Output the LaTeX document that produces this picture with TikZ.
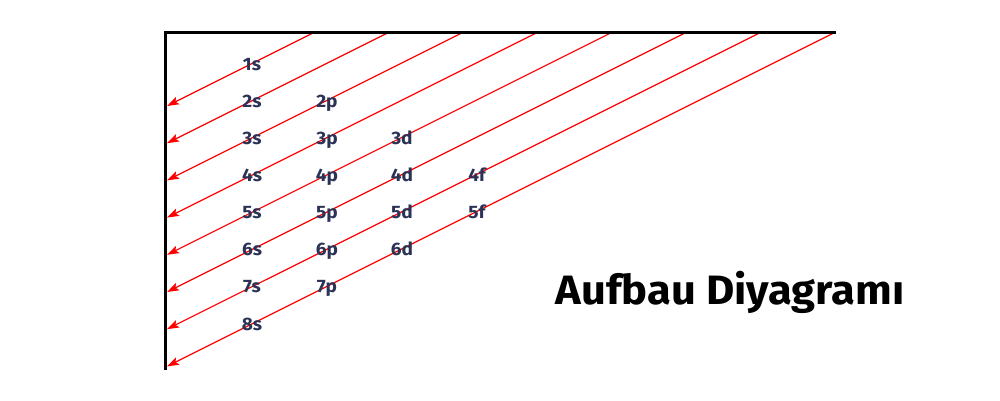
\documentclass[tikz,border=0pt]{standalone}
\usepackage{fontspec}
\setmainfont{Fira Sans}
\newfontfamily\widefont[FakeStretch=1.06]{Fira Sans}
\usetikzlibrary{arrows.meta, positioning}
\tikzset{>/.tip={Stealth[length=12pt,width=8pt,inset=2.5pt]}}
\definecolor{orbnavy}{RGB}{42,51,86}
\definecolor{fillred}{RGB}{255,0,0}

\begin{document}
\begin{tikzpicture}[x=1pt, y=-1pt,
  orb/.style={text=orbnavy, font=\widefont\bfseries\fontsize{18}{18}\selectfont, inner sep=0pt, anchor=base},
  fill line/.style={->, fillred, line width=1.2pt}]
\useasboundingbox (0,0) rectangle (1000,400);
% filling order lines
\foreach \k in {0,...,7} {
  \coordinate (t\k) at (315+74.4*\k, 32);
  \coordinate (l\k) at (167, 106+37.2*\k);
  \draw[fill line] (t\k) -- (l\k);
}
% frame
\coordinate (corner) at (165,32);
\coordinate (top end) at (836,32);
\coordinate (bottom end) at (165,370);
\draw[line width=3pt] (top end) -- (corner) -- (bottom end);
% orbitals
\foreach \n/\l/\c in {1/s/0, 2/s/0, 2/p/1, 3/s/0, 3/p/1, 3/d/2,
    4/s/0, 4/p/1, 4/d/2, 4/f/3, 5/s/0, 5/p/1, 5/d/2, 5/f/3,
    6/s/0, 6/p/1, 6/d/2, 7/s/0, 7/p/1, 8/s/0}
  \node[orb] (o\n\l) at (252+75*\c, 70+37.15*\n-37.15) {\n\l};
\node[font=\widefont\bfseries\fontsize{41}{41}\selectfont] (title) at (730,292) {Aufbau Diyagramı};
\end{tikzpicture}
\end{document}
